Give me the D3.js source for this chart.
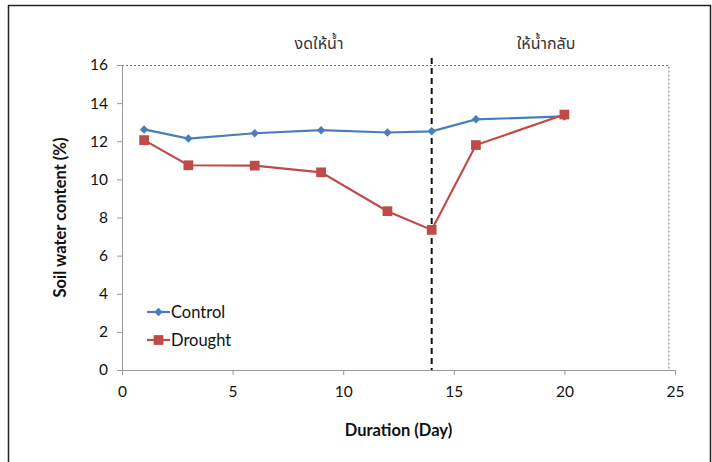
<!DOCTYPE html>
<html><head><meta charset="utf-8">
<script src="https://cdn.jsdelivr.net/npm/d3@7"></script>
<style>body{margin:0;background:#fff}svg{display:block}</style>
</head><body>
<svg id="c" width="712" height="462"></svg>
<script>
const days = [1, 3, 6, 9, 12, 14, 16, 20];
const control = [12.62, 12.14, 12.42, 12.58, 12.46, 12.52, 13.15, 13.3];
const drought = [12.06, 10.74, 10.72, 10.37, 8.33, 7.35, 11.8, 13.4];
const xTicks = [0, 5, 10, 15, 20, 25];
const yTicks = [0, 2, 4, 6, 8, 10, 12, 14, 16];
const seriesNames = ["Control", "Drought"];
const phaseLabels = ["งดให้น้ำ", "ให้น้ำกลับ"];
const stopDay = 14;

const svg = d3.select("#c");
const FONT = "Lato, 'Open Sans', sans-serif";
const THAI = "'Noto Sans Thai', 'Loma', 'Garuda', 'DejaVu Sans', sans-serif";
const blue = "#4a7ebb", red = "#be4b48";

// outer frame
svg.append("path").attr("d","M8.5,462 V5.5 H710.5 V462").attr("fill","none").attr("stroke","#222").attr("stroke-width",1.5);

const x = d3.scaleLinear().domain([0,25]).range([122,675]);
const y = d3.scaleLinear().domain([0,16]).range([370,65]);
const rightEdge = x(24.7);

// dotted top/right plot border
svg.append("path").attr("d",`M${x(0)},${y(16)+0.5} H${rightEdge+0.5} V${y(0)}`)
  .attr("fill","none").attr("stroke","#777").attr("stroke-width",1).attr("stroke-dasharray","2,2");

// axes
const gx = svg.append("g").attr("transform",`translate(0,${y(0)})`)
  .call(d3.axisBottom(x).tickValues(xTicks).tickSize(5).tickPadding(11));
const gy = svg.append("g").attr("transform",`translate(${x(0)},0)`)
  .call(d3.axisLeft(y).tickValues(yTicks).tickSize(5).tickPadding(9));
[gx,gy].forEach(g=>{
  g.selectAll("path,line").attr("stroke","#999").attr("stroke-width",1);
  g.selectAll("text").attr("font-family",FONT).attr("font-size",15.5).attr("fill","#111");
});
gy.select(".domain").attr("d",`M0.5,${y(16)} V${y(0)}`);

// dashed vertical line
svg.append("line").attr("x1",x(stopDay)).attr("x2",x(stopDay)).attr("y1",58).attr("y2",y(0))
  .attr("stroke","#111").attr("stroke-width",2).attr("stroke-dasharray","6,4");

// phase labels
svg.append("text").attr("x",319).attr("y",49).attr("text-anchor","middle")
  .attr("font-family",THAI).attr("font-size",16).attr("fill","#333").text(phaseLabels[0]);
svg.append("text").attr("x",546).attr("y",49).attr("text-anchor","middle")
  .attr("font-family",THAI).attr("font-size",16).attr("fill","#333").text(phaseLabels[1]);

// lines
const line = d3.line().x((d,i)=>x(days[i])).y(d=>y(d));
const diamond = d3.symbol().type(d3.symbolSquare).size(36);
const square = d3.symbol().type(d3.symbolSquare).size(95);

svg.append("path").datum(control).attr("d",line).attr("fill","none").attr("stroke",blue).attr("stroke-width",2.2);
svg.append("g").selectAll("path").data(control).join("path")
  .attr("transform",(d,i)=>`translate(${x(days[i])},${y(d)}) rotate(45)`).attr("d",diamond).attr("fill",blue);

svg.append("path").datum(drought).attr("d",line).attr("fill","none").attr("stroke",red).attr("stroke-width",2.2);
svg.append("g").selectAll("path").data(drought).join("path")
  .attr("transform",(d,i)=>`translate(${x(days[i])},${y(d)})`).attr("d",square).attr("fill",red);

// legend
const leg = [{c:blue,s:diamond,r:45},{c:red,s:square,r:0}];
leg.forEach((l,i)=>{
  const ly = 312 + i*28;
  svg.append("line").attr("x1",147).attr("x2",170).attr("y1",ly).attr("y2",ly).attr("stroke",l.c).attr("stroke-width",2.2);
  svg.append("path").attr("transform",`translate(158.5,${ly}) rotate(${l.r})`).attr("d",l.s).attr("fill",l.c);
  svg.append("text").attr("x",171).attr("y",ly+5.5).attr("font-family",FONT).attr("font-size",16.5).attr("fill","#111").text(seriesNames[i]);
});

// axis titles
svg.append("text").attr("x",(x(0)+x(25))/2).attr("y",436).attr("text-anchor","middle")
  .attr("font-family",FONT).attr("font-weight","bold").attr("font-size",16.5).attr("fill","#111").text("Duration (Day)");
svg.append("text").attr("transform",`translate(66,${(y(0)+y(16))/2}) rotate(-90)`).attr("text-anchor","middle")
  .attr("font-family",FONT).attr("font-weight","bold").attr("font-size",16.5).attr("fill","#111").text("Soil water content (%)");
</script>
</body></html>
